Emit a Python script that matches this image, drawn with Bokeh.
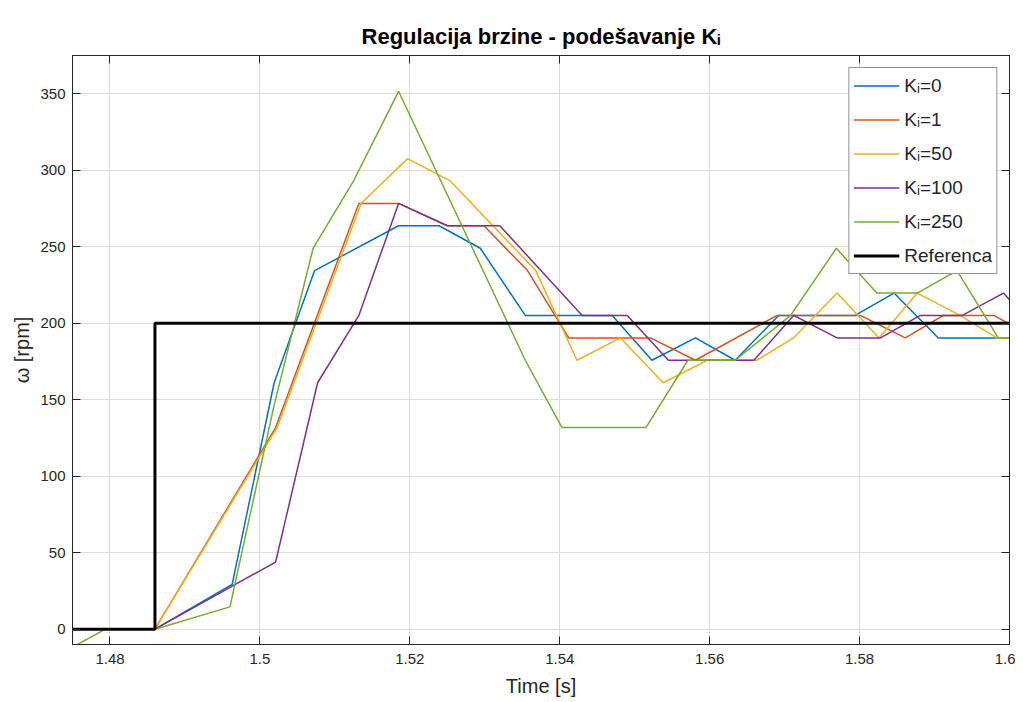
from bokeh.plotting import figure
from bokeh.models import Range1d, FixedTicker, LinearAxis, Legend, LegendItem
from bokeh.embed import file_html
from bokeh.resources import INLINE

# ---------------- data ----------------
title_text = "Regulacija brzine - podešavanje Kᵢ"
x_label = "Time [s]"
y_label = "ω [rpm]"

x_ticks = [1.48, 1.50, 1.52, 1.54, 1.56, 1.58, 1.60]
x_tick_labels = ["1.48", "1.5", "1.52", "1.54", "1.56", "1.58", "1.6"]
y_ticks = [0, 50, 100, 150, 200, 250, 300, 350]

legend_labels = ["Kᵢ=0", "Kᵢ=1", "Kᵢ=50", "Kᵢ=100", "Kᵢ=250", "Referenca"]

t_ki0 = [1.4739, 1.4795, 1.4860, 1.4963, 1.5019, 1.5073, 1.5185, 1.5239, 1.5294, 1.5354,
         1.5470, 1.5523, 1.5581, 1.5634, 1.5692, 1.5794, 1.5846, 1.5905, 1.6035]
w_ki0 = [0, 0, 0, 29.3, 161.1, 234.4, 263.7, 263.7, 249.0, 205.1,
         205.1, 175.8, 190.4, 175.8, 205.1, 205.1, 219.7, 190.4, 190.4]

t_ki1 = [1.4739, 1.4795, 1.4860, 1.5021, 1.5132, 1.5185, 1.5250, 1.5299, 1.5357, 1.5412,
         1.5521, 1.5581, 1.5690, 1.5801, 1.5861, 1.5912, 1.5979, 1.6034]
w_ki1 = [0, 0, 0, 131.8, 278.3, 278.3, 263.7, 263.7, 234.4, 190.4,
         190.4, 175.8, 205.1, 205.1, 190.4, 205.1, 205.1, 190.4]

t_ki50 = [1.4739, 1.4795, 1.4860, 1.5023, 1.5135, 1.5197, 1.5254, 1.5368, 1.5423, 1.5481,
          1.5538, 1.5597, 1.5663, 1.5712, 1.5770, 1.5826, 1.5877, 1.5934, 1.5983, 1.6040]
w_ki50 = [0, 0, 0, 131.8, 278.3, 307.6, 293.0, 234.4, 175.8, 190.4,
          161.1, 175.8, 175.8, 190.4, 219.7, 190.4, 219.7, 205.1, 190.4, 190.4]

t_ki100 = [1.4739, 1.4795, 1.4860, 1.5021, 1.5077, 1.5132, 1.5185, 1.5250, 1.5320, 1.5430,
           1.5490, 1.5545, 1.5659, 1.5712, 1.5770, 1.5828, 1.5881, 1.5937, 1.5992, 1.6045]
w_ki100 = [0, 0, 0, 43.9, 161.1, 205.1, 278.3, 263.7, 263.7, 205.1,
           205.1, 175.8, 175.8, 205.1, 190.4, 190.4, 205.1, 205.1, 219.7, 190.4]

t_ki250 = [1.4739, 1.4794, 1.4860, 1.4960, 1.5019, 1.5071, 1.5125, 1.5185, 1.5354, 1.5403,
           1.5515, 1.5571, 1.5634, 1.5708, 1.5769, 1.5823, 1.5877, 1.5930, 1.5985, 1.6040]
w_ki250 = [-14.6, 0, 0, 14.6, 146.5, 249.0, 293.0, 351.6, 175.8, 131.8,
           131.8, 175.8, 175.8, 205.1, 249.0, 219.7, 219.7, 234.4, 190.4, 190.4]

t_ref = [1.475, 1.4860, 1.4860, 1.600]
w_ref = [0, 0, 200, 200]

series_t = [t_ki0, t_ki1, t_ki50, t_ki100, t_ki250]
series_w = [w_ki0, w_ki1, w_ki50, w_ki100, w_ki250]
colors = ["#0072BD", "#D95319", "#EDB120", "#7E2F8E", "#77AC30"]

FONT = "Liberation Sans"
AX = "#262626"

# ---------------- figure ----------------
p = figure(width=1015, height=702,
           x_range=Range1d(1.475, 1.6), y_range=Range1d(-10, 375),
           output_backend="svg", toolbar_location=None,
           min_border_left=72, min_border_right=6,
           min_border_top=55, min_border_bottom=58)
p.background_fill_color = "white"
p.border_fill_color = "white"
p.outline_line_color = AX
p.outline_line_width = 1

p.title.text = title_text
p.title.align = "center"
p.title.text_font = FONT
p.title.text_font_size = "22px"
p.title.text_font_style = "bold"
p.title.text_color = "black"
p.title.standoff = 13

for ax in (p.xaxis[0], p.yaxis[0]):
    ax.major_tick_in = 8
    ax.major_tick_out = 0
    ax.minor_tick_line_color = None
    ax.axis_line_color = AX
    ax.major_tick_line_color = AX
    ax.major_label_text_color = AX
    ax.major_label_text_font = FONT
    ax.major_label_text_font_size = "15px"
    ax.axis_label_text_font = FONT
    ax.axis_label_text_font_size = "20px"
    ax.axis_label_text_font_style = "normal"
    ax.axis_label_text_color = AX

p.xaxis.ticker = FixedTicker(ticks=x_ticks)
p.xaxis.major_label_overrides = dict(zip(x_ticks, x_tick_labels))
p.xaxis.major_label_standoff = 9
p.xaxis.axis_label = x_label
p.xaxis.axis_label_standoff = 8

p.yaxis.ticker = FixedTicker(ticks=y_ticks)
p.yaxis.major_label_standoff = 7
p.yaxis.axis_label = y_label
p.yaxis.axis_label_standoff = 4

p.xgrid.grid_line_color = "#dedede"
p.ygrid.grid_line_color = "#dedede"

# box ticks on top and right (no labels drawn)
ax_top = LinearAxis(ticker=FixedTicker(ticks=x_ticks), major_label_text_font_size="1px",
                    major_label_text_color=None,
                    major_tick_in=8, major_tick_out=0, minor_tick_line_color=None,
                    axis_line_color=AX, major_tick_line_color=AX, major_label_standoff=0)
ax_right = LinearAxis(ticker=FixedTicker(ticks=y_ticks), major_label_text_font_size="1px",
                      major_label_text_color=None,
                      major_tick_in=8, major_tick_out=0, minor_tick_line_color=None,
                      axis_line_color=AX, major_tick_line_color=AX, major_label_standoff=0)
p.add_layout(ax_top, "above")
p.add_layout(ax_right, "right")

renderers = []
for t, w, c in zip(series_t, series_w, colors):
    r = p.line(t, w, line_color=c, line_width=1.5)
    renderers.append(r)
r_ref = p.line(t_ref, w_ref, line_color="black", line_width=3)
renderers.append(r_ref)

legend = Legend(items=[LegendItem(label=lab, renderers=[r]) for lab, r in zip(legend_labels, renderers)],
                location="top_right")
legend.label_text_font = FONT
legend.label_text_font_size = "19px"
legend.label_text_color = AX
legend.glyph_width = 46
legend.glyph_height = 27
legend.label_height = 27
legend.spacing = 7
legend.padding = 4
legend.margin = 12
legend.label_standoff = 5
legend.border_line_color = AX
legend.border_line_width = 1
legend.background_fill_alpha = 1.0
p.add_layout(legend)

open("out.html", "w").write(file_html(p, INLINE))
